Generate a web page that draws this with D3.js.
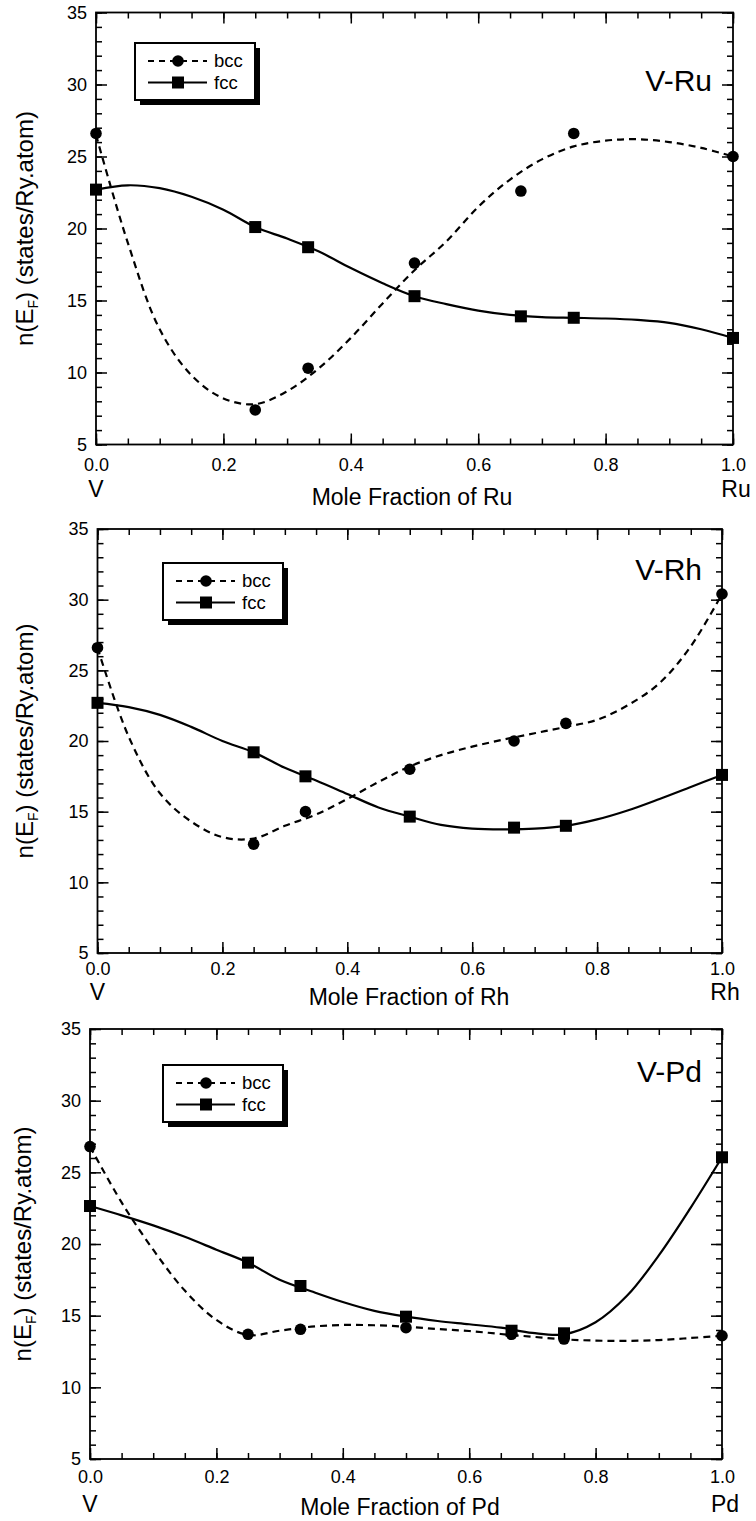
<!DOCTYPE html>
<html>
<head>
<meta charset="utf-8">
<script src="https://cdn.jsdelivr.net/npm/d3@7"></script>
<style>
  body { margin: 0; background: #fff; }
  svg { display: block; font-family: "Liberation Sans", Arial, sans-serif; }
  .axis path { display: none; }
  .axis line { stroke: #000; stroke-width: 1.5; }
  .axis text { font-size: 18px; fill: #000; }
</style>
</head>
<body>
<svg id="chart" width="756" height="1521"></svg>
<script>
// measured points (x = mole fraction)
const fracX = [0, 0.25, 0.333, 0.5, 0.667, 0.75, 1.0];
const ruBcc = [26.6, 7.4, 10.3, 17.6, 22.6, 26.6, 25.0];
const ruFcc = [22.7, 20.1, 18.7, 15.3, 13.9, 13.8, 12.4];
const rhBcc = [26.6, 12.7, 15.0, 18.0, 20.0, 21.25, 30.4];
const rhFcc = [22.7, 19.2, 17.5, 14.65, 13.87, 14.0, 17.6];
const pdBcc = [26.8, 13.7, 14.05, 14.16, 13.7, 13.37, 13.6];
const pdFcc = [22.65, 18.7, 17.07, 14.93, 13.95, 13.77, 26.05];

// fitted curves
const fitX = [0, 0.05, 0.1, 0.15, 0.2, 0.25, 0.3, 0.35, 0.4, 0.45, 0.5,
  0.55, 0.6, 0.65, 0.7, 0.75, 0.8, 0.85, 0.9, 0.95, 1.0];
const ruBccFit = [26.5, 19.0, 13.0, 9.8, 8.2, 7.8, 8.7, 10.3, 12.4, 14.8, 17.1,
  19.1, 21.5, 23.4, 24.8, 25.7, 26.1, 26.2, 26.0, 25.6, 25.0];
const ruFccFit = [22.7, 23.0, 22.8, 22.2, 21.3, 20.1, 19.3, 18.4, 17.25, 16.2, 15.3,
  14.75, 14.3, 14.0, 13.85, 13.8, 13.75, 13.65, 13.45, 13.0, 12.4];
const rhBccFit = [26.6, 20.3, 16.3, 14.3, 13.2, 13.1, 14.0, 14.8, 15.9, 17.1, 18.2,
  19.0, 19.6, 20.1, 20.55, 21.0, 21.5, 22.55, 24.1, 26.7, 30.4];
const rhFccFit = [22.7, 22.4, 21.85, 21.0, 20.0, 19.2, 18.1, 17.2, 16.25, 15.3, 14.65,
  14.06, 13.8, 13.75, 13.8, 14.0, 14.45, 15.1, 15.9, 16.75, 17.6];
const pdBccFit = [26.8, 22.9, 19.6, 16.75, 14.7, 13.65, 13.95, 14.23, 14.35, 14.33, 14.23,
  14.07, 13.93, 13.72, 13.53, 13.35, 13.26, 13.24, 13.3, 13.44, 13.6];
const pdFccFit = [22.65, 22.0, 21.3, 20.5, 19.6, 18.7, 17.5, 16.7, 15.95, 15.33, 14.93,
  14.63, 14.4, 14.16, 13.8, 13.7, 14.54, 16.4, 19.2, 22.5, 26.05];

const yTicks = [5, 10, 15, 20, 25, 30, 35];
const xTicks = [0, 0.2, 0.4, 0.6, 0.8, 1.0];
const seriesNames = ['bcc', 'fcc'];

const panels = [
  { el: 'Ru', bcc: ruBcc, fcc: ruFcc, bccFit: ruBccFit, fccFit: ruFccFit,
    l: 96, r: 733, t: 12.5, b: 444.5, leg: [135, 43], titleY: 91, titleX: 712,
    pad: 14, elemY: 497, axisTitle: [412, 505], yTitleX: 33 },
  { el: 'Rh', bcc: rhBcc, fcc: rhFcc, bccFit: rhBccFit, fccFit: rhFccFit,
    l: 97.5, r: 722, t: 529, b: 953, leg: [163, 563], titleY: 580, titleX: 702,
    pad: 9.5, elemY: 1000, axisTitle: [409, 1005], yTitleX: 33 },
  { el: 'Pd', bcc: pdBcc, fcc: pdFcc, bccFit: pdBccFit, fccFit: pdFccFit,
    l: 90, r: 722, t: 1029, b: 1459, leg: [163, 1065], titleY: 1082, titleX: 702,
    pad: 11.5, elemY: 1512, axisTitle: [400, 1515], yTitleX: 31 }
];

const svg = d3.select('#chart');
const dash = '7,5';

panels.forEach(function(p) {
  const x = d3.scaleLinear().domain([0, 1]).range([p.l, p.r]);
  const y = d3.scaleLinear().domain([5, 35]).range([p.b, p.t]);
  const g = svg.append('g');
  const minorX = d3.range(0, 1.0001, 0.05);
  const minorY = d3.range(5, 35.001, 1);

  // minor ticks
  g.append('g').attr('class', 'axis').attr('transform', 'translate(0,' + p.b + ')')
    .call(d3.axisBottom(x).tickValues(minorX).tickSize(-6).tickSizeOuter(0).tickFormat(''));
  g.append('g').attr('class', 'axis').attr('transform', 'translate(0,' + p.t + ')')
    .call(d3.axisTop(x).tickValues(minorX).tickSize(-6).tickSizeOuter(0).tickFormat(''));
  g.append('g').attr('class', 'axis').attr('transform', 'translate(' + p.l + ',0)')
    .call(d3.axisLeft(y).tickValues(minorY).tickSize(-6).tickSizeOuter(0).tickFormat(''));
  g.append('g').attr('class', 'axis').attr('transform', 'translate(' + p.r + ',0)')
    .call(d3.axisRight(y).tickValues(minorY).tickSize(-6).tickSizeOuter(0).tickFormat(''));

  // major ticks and labels
  g.append('g').attr('class', 'axis').attr('transform', 'translate(0,' + p.b + ')')
    .call(d3.axisBottom(x).tickValues(xTicks).tickSize(-11).tickSizeOuter(0)
      .tickPadding(p.pad).tickFormat(d3.format('.1f')));
  g.append('g').attr('class', 'axis').attr('transform', 'translate(0,' + p.t + ')')
    .call(d3.axisTop(x).tickValues(xTicks).tickSize(-11).tickSizeOuter(0).tickFormat(''));
  g.append('g').attr('class', 'axis').attr('transform', 'translate(' + p.l + ',0)')
    .call(d3.axisLeft(y).tickValues(yTicks).tickSize(-11).tickSizeOuter(0).tickPadding(9));
  g.append('g').attr('class', 'axis').attr('transform', 'translate(' + p.r + ',0)')
    .call(d3.axisRight(y).tickValues(yTicks).tickSize(-11).tickSizeOuter(0).tickFormat(''));

  // frame
  g.append('rect').attr('x', p.l).attr('y', p.t)
    .attr('width', p.r - p.l).attr('height', p.b - p.t)
    .attr('fill', 'none').attr('stroke', '#000').attr('stroke-width', 1.8);

  // fitted curves
  const line = d3.line()
    .x(function(d, i) { return x(fitX[i]); })
    .y(function(d) { return y(d); })
    .curve(d3.curveCatmullRom.alpha(0.5));
  g.append('path').datum(p.bccFit).attr('d', line).attr('fill', 'none')
    .attr('stroke', '#000').attr('stroke-width', 2.2).attr('stroke-dasharray', dash);
  g.append('path').datum(p.fccFit).attr('d', line).attr('fill', 'none')
    .attr('stroke', '#000').attr('stroke-width', 2.2);

  // markers
  g.selectAll('circle.bcc').data(p.bcc).enter().append('circle').attr('class', 'bcc')
    .attr('cx', function(d, i) { return x(fracX[i]); })
    .attr('cy', function(d) { return y(d); })
    .attr('r', 5.8).attr('fill', '#000');
  g.selectAll('rect.fcc').data(p.fcc).enter().append('rect').attr('class', 'fcc')
    .attr('x', function(d, i) { return x(fracX[i]) - 6; })
    .attr('y', function(d) { return y(d) - 6; })
    .attr('width', 12).attr('height', 12).attr('fill', '#000');

  // x end labels and axis title
  g.append('text').attr('x', x(0)).attr('y', p.elemY).attr('text-anchor', 'middle')
    .attr('font-size', 23).text('V');
  g.append('text').attr('x', x(1) + 3).attr('y', p.elemY).attr('text-anchor', 'middle')
    .attr('font-size', 23).text(p.el);
  g.append('text').attr('x', p.axisTitle[0]).attr('y', p.axisTitle[1])
    .attr('text-anchor', 'middle').attr('font-size', 23).text('Mole Fraction of ' + p.el);

  // panel title
  g.append('text').attr('x', p.titleX).attr('y', p.titleY).attr('text-anchor', 'end')
    .attr('font-size', 30).text('V-' + p.el);

  // y axis title
  const yt = g.append('text')
    .attr('transform', 'translate(' + p.yTitleX + ',' + ((p.t + p.b) / 2) + ') rotate(-90)')
    .attr('text-anchor', 'middle').attr('font-size', 24);
  yt.append('tspan').text('n(E');
  yt.append('tspan').attr('font-size', 14).attr('dy', 5).text('F');
  yt.append('tspan').attr('dy', -5).text(') (states/Ry.atom)');

  // legend
  const lg = g.append('g').attr('transform', 'translate(' + p.leg[0] + ',' + p.leg[1] + ')');
  lg.append('rect').attr('x', 5).attr('y', 5).attr('width', 120).attr('height', 57).attr('fill', '#000');
  lg.append('rect').attr('width', 120).attr('height', 57).attr('fill', '#fff')
    .attr('stroke', '#000').attr('stroke-width', 2);
  seriesNames.forEach(function(name, i) {
    const ry = 18 + i * 21.5;
    lg.append('line').attr('x1', 13).attr('x2', 72).attr('y1', ry).attr('y2', ry)
      .attr('stroke', '#000').attr('stroke-width', 2)
      .attr('stroke-dasharray', name === 'bcc' ? '6,5' : null);
    if (name === 'bcc') {
      lg.append('circle').attr('cx', 43).attr('cy', ry).attr('r', 5.8).attr('fill', '#000');
    } else {
      lg.append('rect').attr('x', 37).attr('y', ry - 6).attr('width', 12).attr('height', 12).attr('fill', '#000');
    }
    lg.append('text').attr('x', 79).attr('y', ry).attr('dy', '0.35em')
      .attr('font-size', 18.5).text(name);
  });
});
</script>
</body>
</html>
